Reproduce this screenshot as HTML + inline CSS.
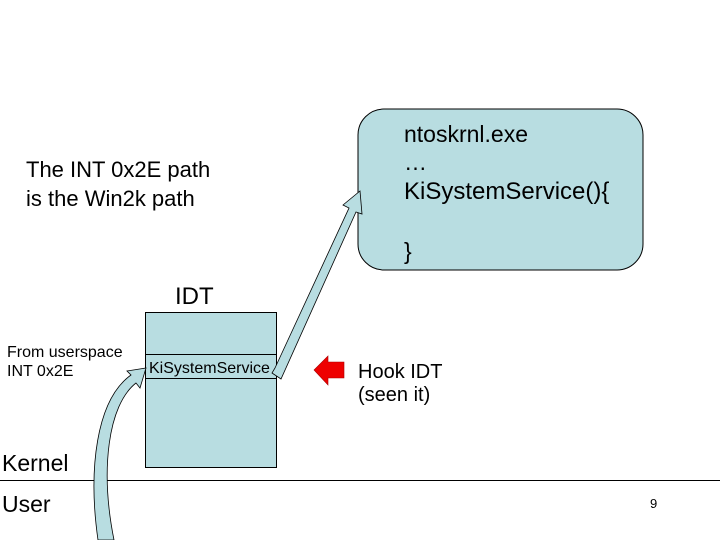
<!DOCTYPE html>
<html><head><style>
body{margin:0;background:#fff;}
svg{display:block}
text{font-family:"Liberation Sans",Arial,sans-serif;fill:#000}
</style></head><body>
<svg width="720" height="540" viewBox="0 0 720 540">
<rect x="358" y="109" width="285" height="161" rx="26" ry="26" fill="#b8dde1" stroke="#000" stroke-width="1"/>
<text x="404" y="142" font-size="23">ntoskrnl.exe</text>
<text x="404" y="170" font-size="23">…</text>
<text x="404" y="199" font-size="24">KiSystemService(){</text>
<text x="404" y="259" font-size="23">}</text>
<text x="26" y="177" font-size="22">The INT 0x2E path</text>
<text x="26" y="206" font-size="22">is the Win2k path</text>
<text x="175" y="304" font-size="24">IDT</text>
<rect x="145.5" y="312.5" width="131" height="155" fill="#b8dde1" stroke="#000"/>
<line x1="145" y1="354.5" x2="277" y2="354.5" stroke="#000"/>
<line x1="145" y1="378.5" x2="277" y2="378.5" stroke="#000"/>
<text x="149" y="373" font-size="16">KiSystemService</text>
<text x="7" y="357" font-size="16">From userspace</text>
<text x="7" y="376" font-size="16">INT 0x2E</text>
<polygon points="272,373 281,379 356,212 362,214 360,191 343,205 349,208 275,368" fill="#b8dde1" stroke="#000" stroke-width="0.8"/>
<polygon points="314,370 328,356 328,362 344,362 344,378 328,378 328,385" fill="#e00" stroke="#a00" stroke-width="0.6"/>
<text x="358" y="378" font-size="20">Hook IDT</text>
<text x="358" y="401" font-size="20">(seen it)</text>
<line x1="0" y1="480.5" x2="720" y2="480.5" stroke="#000"/>
<text x="2" y="471" font-size="23">Kernel</text>
<text x="2" y="512" font-size="23">User</text>
<text x="650" y="508" font-size="13">9</text>
<path d="M98,540 C88,470 96,400 131,375 L127,371 L146,368 L140,388 L136,383 C108,405 100,470 114,540 Z" fill="#b8dde1" stroke="#000" stroke-width="0.8"/>
</svg>
</body></html>
